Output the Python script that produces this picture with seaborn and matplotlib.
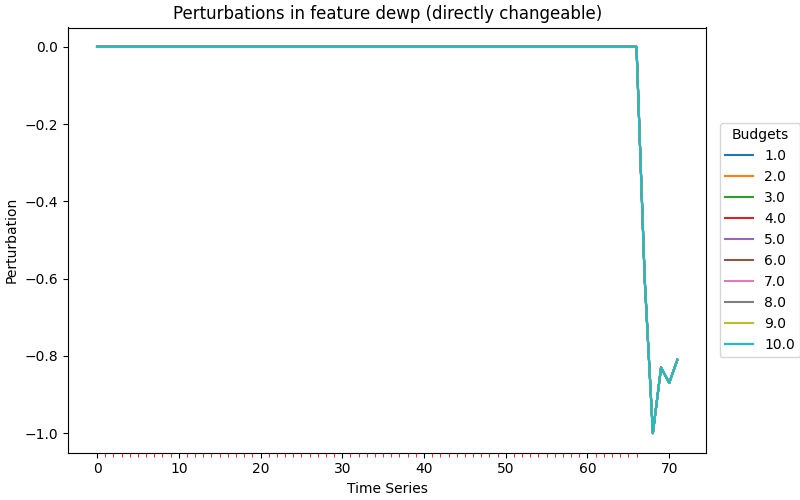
import numpy as np
import pandas as pd
import matplotlib
matplotlib.use("Agg")
import matplotlib.pyplot as plt
import seaborn as sns
from matplotlib.ticker import FixedLocator

budgets = [1.0, 2.0, 3.0, 4.0, 5.0, 6.0, 7.0, 8.0, 9.0, 10.0]
time_steps = list(range(72))
perturbation = [0.0] * 67 + [-0.6, -1.0, -0.83, -0.87, -0.81]
changeable_steps = list(range(67))

rows = []
for b in budgets:
    for t, v in zip(time_steps, perturbation):
        rows.append({"t": t, "p": v, "budget": str(b)})
df = pd.DataFrame(rows)

fig, ax = plt.subplots(figsize=(8, 5), dpi=100)
sns.lineplot(data=df, x="t", y="p", hue="budget", palette="tab10", ax=ax,
             hue_order=[str(b) for b in budgets])

ax.xaxis.set_minor_locator(FixedLocator(changeable_steps))
ax.tick_params(axis="x", which="minor", colors="red", length=3)
ax.set_title("Perturbations in feature dewp (directly changeable)")
ax.set_xlabel("Time Series")
ax.set_ylabel("Perturbation")
ax.legend(title="Budgets", loc="center left", bbox_to_anchor=(1.01, 0.5))
fig.subplots_adjust(left=0.085, right=0.883, top=0.945, bottom=0.095)
fig.savefig("out.png")
